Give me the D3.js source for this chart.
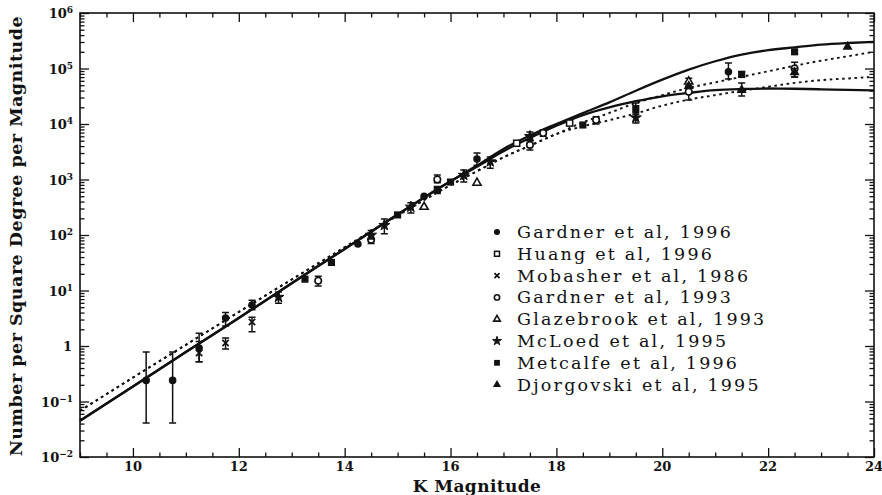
<!DOCTYPE html>
<html><head><meta charset="utf-8">
<script src="https://cdn.jsdelivr.net/npm/d3@7/dist/d3.min.js"></script>
<style>body{margin:0;background:#fff}svg{display:block}</style>
</head><body>
<svg id="c" width="882" height="495"></svg>
<script>
// ---- data ----
const curveK = [9,10,11,12,13,14,15,16,16.5,17,17.5,18,18.5,19,19.5,20,20.5,21,21.5,22,22.5,23,23.5,24];
const solidA = [0.045,0.186,0.78,3.2,13.5,56,234,930,1780,3550,6200,10000,15800,24500,39800,63000,95500,135000,178000,214000,240000,269000,288000,302000];
const solidB = [0.045,0.186,0.78,3.2,13.5,56,234,930,1700,3240,5600,9300,14500,20000,25700,31600,36300,40700,42700,43600,43200,42200,41200,40300];
const dottedC = [0.068,0.27,1.05,4.1,15.8,60,224,794,1410,2510,4070,6600,10700,15800,24000,33100,44700,56200,70800,89100,112000,138000,166000,200000];
const dottedD = [0.068,0.27,1.05,4.1,15.8,60,224,794,1410,2510,4070,6600,9100,11700,15500,21400,27500,33100,39800,46800,55000,61700,66100,70800];

const seriesNames = ["Gardner et al, 1996","Huang et al, 1996","Mobasher et al, 1986","Gardner et al, 1993","Glazebrook et al, 1993","McLoed et al, 1995","Metcalfe et al, 1996","Djorgovski et al, 1995"];
const seriesSymbols = ["fcircle","osquare","cross","ocircle","otriangle","star","fsquare","ftriangle"];

// each point: [K, N, low, high] (low/high null when no error bar)
const gardner96 = [[10.25,0.24,0.041,0.78],[10.75,0.24,0.041,0.78],[11.25,0.92,0.52,1.7],[11.75,3.2,2.3,4.0],[12.25,5.5,4.5,6.7],[14.25,69,null,null],[15.5,500,null,null],[16.5,2350,1800,3000],[21.25,87000,65000,125000]];
const huang96 = [[17.25,4500,null,null],[18.25,10400,null,null]];
const mobasher86 = [[11.25,0.75,0.52,1.2],[11.75,1.13,0.88,1.39],[12.25,2.7,1.8,3.3]];
const gardner93 = [[13.5,15,12,18],[14.5,82,70,100],[15.75,1000,870,1200],[17.5,4200,3400,5200],[17.75,6900,6000,7800],[18.75,11800,10000,13500],[20.5,38000,27000,48000],[22.5,100000,70000,130000]];
const glazebrook93 = [[15.5,320,null,null],[16.5,870,null,null],[20.5,58000,48000,67000]];
const mcleod95 = [[12.75,7.6,5.9,9.4],[14.5,100,85,120],[14.75,150,105,195],[15.25,320,250,380],[16.25,1200,900,1480],[16.75,2100,1600,2550],[17.5,6000,5000,7200],[19.5,13000,10400,16000]];
const metcalfe96 = [[13.25,16,null,null],[13.75,32,null,null],[15.0,230,null,null],[15.75,650,560,750],[16.0,900,null,null],[18.5,9600,null,null],[19.5,19000,15000,24000],[21.5,78000,70000,88000],[22.5,200000,null,null]];
const djorgovski95 = [[20.5,48000,null,null],[21.5,41000,32000,55000],[22.5,85000,70000,100000],[23.5,245000,null,null]];
const seriesData = [gardner96,huang96,mobasher86,gardner93,glazebrook93,mcleod95,metcalfe96,djorgovski95];

const xMajor = [10,12,14,16,18,20,22,24];
const yExp = [-2,-1,0,1,2,3,4,5,6];

// ---- drawing ----
const svg = d3.select("#c");
const L=80, R=874, T=13, B=457;
const x = d3.scaleLinear().domain([9,24]).range([L,R]);
const y = d3.scaleLog().domain([1e-2,1e6]).range([B,T]);
const FONT = "'DejaVu Serif', serif";

// curves
const line = d3.line().x(d=>x(d[0])).y(d=>y(d[1])).curve(d3.curveMonotoneX);
const gC = svg.append("g").attr("fill","none").attr("stroke","#111");
[[solidA,null,2.3],[solidB,null,2.3],[dottedC,"2.6,3.6",1.9],[dottedD,"2.6,3.6",1.9]].forEach(([vals,dash,w])=>{
  gC.append("path").attr("d",line(curveK.map((k,i)=>[k,vals[i]])))
    .attr("stroke-width",w).attr("stroke-dasharray",dash);
});

// symbols
function drawSym(g, type, cx, cy, s){
  s = s||1;
  if(type==="fcircle") g.append("circle").attr("cx",cx).attr("cy",cy).attr("r",3.6*s).attr("fill","#111");
  else if(type==="ocircle") g.append("circle").attr("cx",cx).attr("cy",cy).attr("r",3.1*s).attr("fill","#fff").attr("stroke","#111").attr("stroke-width",1.6);
  else if(type==="osquare") g.append("rect").attr("x",cx-2.9*s).attr("y",cy-2.9*s).attr("width",5.8*s).attr("height",5.8*s).attr("fill","#fff").attr("stroke","#111").attr("stroke-width",1.5);
  else if(type==="fsquare") g.append("rect").attr("x",cx-3.4*s).attr("y",cy-3.4*s).attr("width",6.8*s).attr("height",6.8*s).attr("fill","#111");
  else if(type==="cross") g.append("path").attr("d",`M${cx-3*s},${cy-3*s}L${cx+3*s},${cy+3*s}M${cx-3*s},${cy+3*s}L${cx+3*s},${cy-3*s}`).attr("stroke","#111").attr("stroke-width",1.7);
  else if(type==="otriangle") g.append("path").attr("d",d3.symbol(d3.symbolTriangle,26*s*s)()).attr("transform",`translate(${cx},${cy})`).attr("fill","#fff").attr("stroke","#111").attr("stroke-width",1.6);
  else if(type==="ftriangle") g.append("path").attr("d",d3.symbol(d3.symbolTriangle,40*s*s)()).attr("transform",`translate(${cx},${cy})`).attr("fill","#111");
  else if(type==="star") g.append("path").attr("d",d3.symbol(d3.symbolStar,34*s*s)()).attr("transform",`translate(${cx},${cy})`).attr("fill","#111").attr("stroke","#111").attr("stroke-width",1);
}

// data points with error bars
const gP = svg.append("g");
seriesData.forEach((pts,si)=>{
  pts.forEach(p=>{
    const cx=x(p[0]), cy=y(p[1]);
    if(p[2]!=null){
      const y0=y(p[2]), y1=y(p[3]);
      gP.append("path").attr("d",`M${cx},${y0}V${y1}M${cx-3.5},${y0}H${cx+3.5}M${cx-3.5},${y1}H${cx+3.5}`)
        .attr("stroke","#111").attr("stroke-width",1.5).attr("fill","none");
    }
    drawSym(gP, seriesSymbols[si], cx, cy, 1.05);
  });
});

// axes frame & ticks
const gA = svg.append("g");
const yMinor=[]; for(let e=-2;e<6;e++) for(let m=2;m<=9;m++) yMinor.push(m*Math.pow(10,e));
const xMinor=d3.range(9,24.01,0.5).filter(v=>xMajor.indexOf(v)<0);
gA.append("g").attr("transform",`translate(${L},0)`).call(d3.axisLeft(y).tickValues(yExp.map(e=>Math.pow(10,e))).tickSize(-9).tickFormat(""));
gA.append("g").attr("transform",`translate(${L},0)`).call(d3.axisLeft(y).tickValues(yMinor).tickSize(-4.5).tickFormat(""));
gA.append("g").attr("transform",`translate(${R},0)`).call(d3.axisRight(y).tickValues(yExp.map(e=>Math.pow(10,e))).tickSize(-9).tickFormat(""));
gA.append("g").attr("transform",`translate(${R},0)`).call(d3.axisRight(y).tickValues(yMinor).tickSize(-4.5).tickFormat(""));
gA.append("g").attr("transform",`translate(0,${B})`).call(d3.axisBottom(x).tickValues(xMajor).tickSize(-9).tickFormat(""));
gA.append("g").attr("transform",`translate(0,${B})`).call(d3.axisBottom(x).tickValues(xMinor).tickSize(-4.5).tickFormat(""));
gA.append("g").attr("transform",`translate(0,${T})`).call(d3.axisTop(x).tickValues(xMajor).tickSize(-9).tickFormat(""));
gA.append("g").attr("transform",`translate(0,${T})`).call(d3.axisTop(x).tickValues(xMinor).tickSize(-4.5).tickFormat(""));
gA.selectAll(".domain").remove();
gA.selectAll(".tick line").attr("stroke","#111").attr("stroke-width",1.3);
gA.append("rect").attr("x",L).attr("y",T).attr("width",R-L).attr("height",B-T).attr("fill","none").attr("stroke","#111").attr("stroke-width",1.6);

// x tick labels
svg.append("g").selectAll("text").data(xMajor).join("text")
  .attr("x",d=>x(d)).attr("y",471).attr("text-anchor","middle")
  .attr("font-family",FONT).attr("font-weight","bold").attr("font-size",13).attr("fill","#111").text(d=>d);

// y tick labels
const gy = svg.append("g").attr("font-family",FONT).attr("font-weight","bold").attr("fill","#111");
yExp.forEach(e=>{
  const yy=y(Math.pow(10,e));
  if(e===0){
    gy.append("text").attr("x",72).attr("y",yy+5).attr("text-anchor","end").attr("font-size",13).text("1");
  } else {
    const t=gy.append("text").attr("x",73).attr("y",yy+5).attr("text-anchor","end").attr("font-size",13);
    t.append("tspan").text("10");
    t.append("tspan").attr("dy",-5).attr("font-size",9).text(e<0?("\u2212"+(-e)):String(e));
  }
});

// axis titles
svg.append("text").attr("x",(L+R)/2).attr("y",492).attr("text-anchor","middle")
  .attr("font-family",FONT).attr("font-weight","bold").attr("font-size",17).attr("letter-spacing","0.4px").attr("fill","#111").text("K Magnitude");
svg.append("text").attr("transform",`translate(22,${(T+B)/2+1}) rotate(-90)`).attr("text-anchor","middle")
  .attr("font-family",FONT).attr("font-weight","bold").attr("font-size",17.5).attr("letter-spacing","0.5px").attr("fill","#111").text("Number per Square Degree per Magnitude");

// legend
const gL = svg.append("g");
seriesNames.forEach((nm,i)=>{
  const yy = 232 + i*21.8;
  drawSym(gL, seriesSymbols[i], 497, yy, 0.85);
  gL.append("text").attr("x",517).attr("y",yy+6).attr("font-family",FONT).attr("font-size",17.5)
    .attr("letter-spacing","2.2px").attr("fill","#111").text(nm);
});
</script>
</body></html>
